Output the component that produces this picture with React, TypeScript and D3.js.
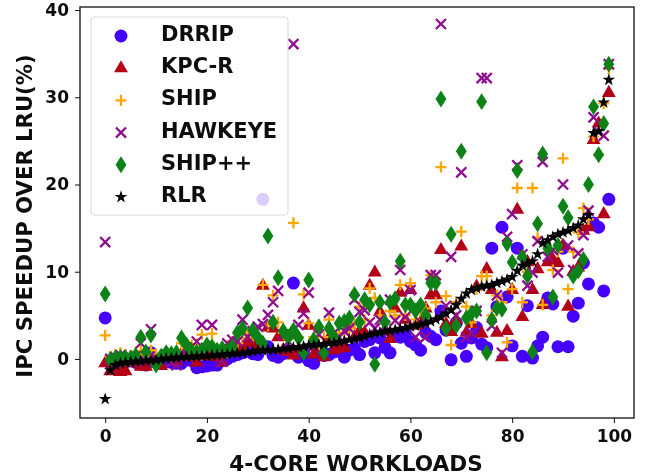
import React, {useRef, useEffect} from 'react'
import * as d3 from 'd3'

const drrip = [4.7,-0.5,-0.8,-0.6,-0.3,-0.2,-0.4,-0.3,-0.7,0.7,-0.4,-0.3,-0.3,-0.4,-0.5,-0.5,-0.1,-0.2,-1,-0.9,-0.8,-0.7,-0.7,-0.2,0,0.3,0.5,0.7,0.9,0.6,0.5,18.3,1.4,0.4,0.2,0.6,0.9,8.7,0.2,0.8,-0.2,-0.5,0.7,0.4,0.5,0.8,0.9,0.2,1,1.2,0.5,2,2.2,0.7,2.4,1.3,0.7,2.8,2.5,3,2,1.6,1,3,2.6,2.2,5.5,3.3,-0.1,4.1,1.8,0.3,2.4,3.6,1.7,1.3,12.7,6,15.1,7.1,1.5,12.7,0.3,6.1,0.1,1.5,2.5,7,6.3,1.4,12.7,1.4,4.9,6.4,11,8.6,15.6,15.1,7.8,18.3]
const kpcr = [-0.5,-1.4,-1.3,-1.5,-1.4,-0.5,-0.4,-0.9,-0.9,-0.3,-0.2,-0.8,0.2,0.3,-0.3,0.5,0.2,0.3,-0.4,0.7,0.3,0.6,0.2,-0.4,0.9,1,1.5,1.3,2,1.8,1.2,8.4,3.6,3.5,2.5,1,0.8,0.4,1,5.8,3.8,0.5,1.2,0.2,2.4,1,1.2,1.3,3.9,2.5,3.2,3,8.4,9.9,5.4,3.2,2.3,5.8,7.6,4.5,7.9,3.8,4.2,5.8,7.3,7.3,12.5,4,3.1,4.5,12.9,3,4,8.3,2.9,10.3,7.9,3,0.2,3.2,7.9,17.1,4.8,11.1,7.9,10.3,6.2,11.1,11.4,11,13,6,10,10.5,14.7,15.1,25.1,27,16.6,30.5]
const ship = [2.7,0.3,0.5,0.7,0.5,0.4,0.8,0.9,0.3,1,0.5,0.5,0.6,0.5,0.9,1.8,1.2,1.6,1.7,2.8,1.5,2.9,1.2,0.9,1.5,2,1.8,2.4,3,2.6,2.5,8.5,3.8,7.3,4.2,3,2.3,15.6,2.5,7.4,4.1,2.5,1.6,2.5,4.5,2.7,3,3,3.5,4,6,4.5,8.1,7,5,4.2,5.5,5,8.5,5,8.7,4.5,5.5,5.8,9.6,6.5,22,7.2,1.6,6.5,14.6,6,4.2,8,9.5,9.5,5,7.3,6.5,1.9,8,19.6,6.5,10,19.6,13.9,6.2,12.2,10.2,12.3,23,8,12.3,14.5,17.3,16,25.5,23.4,29.3,33.3]
const hawkeye = [13.4,0,0.2,0.4,-0.3,0.2,0.3,1.8,-0.3,3.4,0.1,-0.2,0.5,-0.4,-0.7,0.4,1.3,0.8,2,3.9,1.2,3.9,1,-0.3,1.8,2.2,2,4.5,2.5,3.2,3.7,4,5.05,6.5,7.8,2.8,2,36.1,3.9,5.2,7.6,1.5,2.8,1.2,5.3,3,2.5,3.2,3.5,6.8,5.4,5.6,4.2,3.5,4.5,3.8,6.8,4.4,10.2,4.8,7.9,2.5,4.2,2.5,9.6,9.6,38.4,6.1,11.7,5,21.4,2.5,3,5.5,32.2,32.2,3.8,7.3,0.7,14,16.6,22.2,12,8.4,9.9,13.5,22.6,11.7,12.5,9.9,20,13,10.2,12.1,14.2,17,27.7,26,25.6,33.8]
const shippp = [7.45,-0.1,0.1,0.2,0.1,0.1,0.4,2.5,0.8,2.75,-0.7,0.3,0.7,0.6,0.7,2.4,1.6,0.9,0.8,1,1.6,1.4,1,1.2,0.9,1.4,3,3.5,5.85,3.3,2.5,1.8,14.1,4.2,9.3,3.2,2.5,3.3,2.4,0.7,9.06,2.2,3.7,0.7,3.5,2.5,4.1,4.3,4.7,7.4,4.2,6.8,6.2,-0.6,6.5,4.2,6.5,6.9,11.2,6.2,6.2,5.5,6.2,5,8.7,8.7,29.8,3.5,14.3,3.8,23.8,4.7,5.2,5.5,29.5,0.7,4.5,5.85,5.7,13.2,11.1,21.6,11.7,9.5,0.8,15.5,23.5,12.7,7.1,13,17.5,16.2,9.5,10.1,11.4,20,28.9,23.4,27,33.8]
const rlr = [-4.6,-1.3,-0.7,-0.5,-0.4,-0.35,-0.3,-0.25,-0.2,-0.15,-0.1,-0.05,0.05,0.1,0.15,0.2,0.22,0.25,0.3,0.32,0.35,0.4,0.45,0.5,0.55,0.6,0.65,0.7,0.75,0.85,0.95,1,1.02,1.05,1.1,1.15,1.2,1.3,1.35,1.45,1.55,1.6,1.65,1.7,1.8,1.85,1.95,2.05,2.2,2.3,2.45,2.6,2.8,2.95,3.05,3.15,3.25,3.35,3.45,3.55,3.7,3.8,3.95,4.1,4.3,4.55,4.8,5.2,5.6,6.2,6.9,7.5,7.9,8.1,8.3,8.4,8.5,8.7,8.9,9.1,9.4,10.1,10.7,10.9,11.2,12,13.3,13.6,14,14.3,14.5,14.7,15,15.3,16,16.5,25.9,26.1,29.4,32]

const xTicks = [0, 20, 40, 60, 80, 100]
const yTicks = [0, 10, 20, 30, 40]
const font = '"DejaVu Sans", sans-serif'

// matplotlib's thin_diamond
const thinDiamond = {
  draw(ctx, size) {
    const h = Math.sqrt(size)
    ctx.moveTo(0, -h)
    ctx.lineTo(h * 0.64, 0)
    ctx.lineTo(0, h)
    ctx.lineTo(-h * 0.64, 0)
    ctx.closePath()
  }
}

const series = [
  {name: 'DRRIP', values: drrip, color: '#4400ff', type: d3.symbolCircle, size: 132, line: false},
  {name: 'KPC-R', values: kpcr, color: '#b30019', type: d3.symbolTriangle, size: 84, line: false},
  {name: 'SHIP', values: ship, color: '#ffa500', type: d3.symbolPlus, size: 42, line: true},
  {name: 'HAWKEYE', values: hawkeye, color: '#8f0a8f', type: d3.symbolTimes, size: 68, line: true},
  {name: 'SHIP++', values: shippp, color: '#0a8214', type: thinDiamond, size: 72, line: false},
  {name: 'RLR', values: rlr, color: '#000000', type: d3.symbolStar, size: 50, line: false}
]

const marginObj = {top: 7, right: 634, bottom: 418, left: 80}

function App() {
  const svgRef = useRef(null)

  useEffect(() => {
    const svg = d3.select(svgRef.current)
    svg.selectAll('*').remove()

    svg
      .append('defs')
      .append('filter')
      .attr('id', 'soft')
      .attr('x', '0')
      .attr('y', '0')
      .attr('width', '100%')
      .attr('height', '100%')
      .append('feGaussianBlur')
      .attr('stdDeviation', 0.45)

    const root = svg.append('g').attr('filter', 'url(#soft)')
    root
      .append('rect')
      .attr('width', 646)
      .attr('height', 476)
      .attr('fill', 'white')

    const xScale = d3
      .scaleLinear()
      .domain([-4.95, 103.95])
      .range([marginObj.left, marginObj.right])
    const yScale = d3
      .scaleLinear()
      .domain([-6.77, 40.35])
      .range([marginObj.bottom, marginObj.top])

    const marker = s =>
      d3
        .symbol()
        .type(s.type)
        .size(s.size)()

    const styleMarker = (sel, s) =>
      sel
        .attr('d', marker(s))
        .attr('fill', s.line ? 'none' : s.color)
        .attr('stroke', s.line ? s.color : 'none')
        .attr('stroke-width', s.line ? 2.3 : 0)

    series.forEach(s => {
      root
        .append('g')
        .selectAll('path')
        .data(s.values)
        .join('path')
        .attr('transform', (d, i) => `translate(${xScale(i)},${yScale(d)})`)
        .call(styleMarker, s)
    })

    const xAxis = d3
      .axisBottom(xScale)
      .tickValues(xTicks)
      .tickSize(5)
      .tickPadding(7)
    const yAxis = d3
      .axisLeft(yScale)
      .tickValues(yTicks)
      .tickSize(5)
      .tickPadding(6)

    const styleAxis = g => {
      g.select('.domain').remove()
      g.selectAll('line').attr('stroke', '#111')
      g
        .selectAll('text')
        .attr('fill', '#111')
        .style('font-family', font)
        .style('font-weight', 'bold')
        .style('font-size', '17px')
    }

    root
      .append('g')
      .attr('transform', `translate(0,${marginObj.bottom})`)
      .call(xAxis)
      .call(styleAxis)
    root
      .append('g')
      .attr('transform', `translate(${marginObj.left},0)`)
      .call(yAxis)
      .call(styleAxis)

    root
      .append('rect')
      .attr('x', marginObj.left)
      .attr('y', marginObj.top)
      .attr('width', marginObj.right - marginObj.left)
      .attr('height', marginObj.bottom - marginObj.top)
      .attr('fill', 'none')
      .attr('stroke', '#111')
      .attr('stroke-width', 1.3)

    root
      .append('text')
      .attr('x', 356)
      .attr('y', 471)
      .attr('text-anchor', 'middle')
      .attr('fill', '#111')
      .style('font-family', font)
      .style('font-weight', 'bold')
      .style('font-size', '21.6px')
      .text('4-CORE WORKLOADS')

    root
      .append('text')
      .attr('transform', 'translate(32,216) rotate(-90)')
      .attr('text-anchor', 'middle')
      .attr('fill', '#111')
      .style('font-family', font)
      .style('font-weight', 'bold')
      .style('font-size', '21.2px')
      .text('IPC SPEEDUP OVER LRU(%)')

    // legend sits on top of the points, slightly see through
    const legend = root.append('g')
    legend
      .append('rect')
      .attr('x', 91)
      .attr('y', 17)
      .attr('width', 197)
      .attr('height', 198)
      .attr('rx', 3)
      .attr('fill', 'white')
      .attr('fill-opacity', 0.8)
      .attr('stroke', '#d8d8d8')
      .attr('stroke-width', 1)

    const rowY = d3
      .scalePoint()
      .domain(series.map(s => s.name))
      .range([36, 197])

    series.forEach(s => {
      legend
        .append('path')
        .attr('transform', `translate(121,${rowY(s.name)})`)
        .call(styleMarker, s)
      legend
        .append('text')
        .attr('x', 161)
        .attr('y', rowY(s.name) + 5)
        .attr('fill', '#111')
        .style('font-family', font)
        .style('font-weight', 'bold')
        .style('font-size', '21px')
        .text(s.name)
    })
  }, [])

  return (
    <svg
      ref={svgRef}
      width="646"
      height="476"
      style={{position: 'absolute', left: 0, top: 0, display: 'block'}}
    />
  )
}

export default App
